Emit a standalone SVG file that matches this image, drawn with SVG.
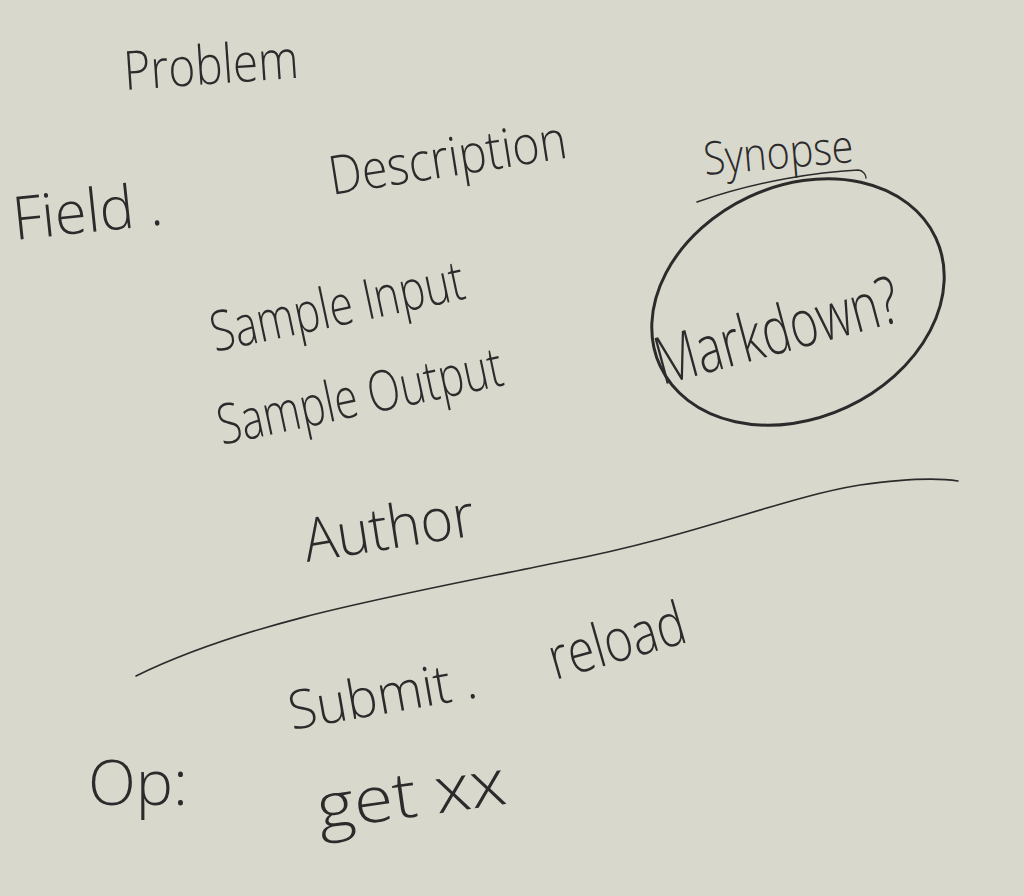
<svg xmlns="http://www.w3.org/2000/svg" width="1024" height="896" viewBox="0 0 1024 896">
<style>
.t{font-family:"Open Sans","Liberation Sans",sans-serif;font-weight:300;fill:#2b2b2b}
.s{fill:none;stroke:#2b2b2b;stroke-linecap:round}
</style>
<rect width="1024" height="896" fill="#d9d8cc"/>
<g id="problem"><text class="t" x="125" y="90" font-size="54" textLength="175" lengthAdjust="spacingAndGlyphs" transform="rotate(-4 125 90)">Problem</text></g>
<g id="field"><text class="t" x="15" y="240" font-size="60" textLength="150" lengthAdjust="spacingAndGlyphs" transform="rotate(-6 15 240)">Field .</text></g>
<g id="description"><text class="t" x="332" y="195" font-size="54" textLength="240" lengthAdjust="spacingAndGlyphs" transform="rotate(-9 332 195)">Description</text></g>
<g id="sample-input"><text class="t" x="215" y="352" font-size="56" textLength="258" lengthAdjust="spacingAndGlyphs" transform="rotate(-12 215 352)">Sample Input</text></g>
<g id="sample-output"><text class="t" x="222" y="445" font-size="56" textLength="290" lengthAdjust="spacingAndGlyphs" transform="rotate(-12 222 445)">Sample Output</text></g>
<g id="author"><text class="t" x="307" y="562" font-size="60" font-weight="400" textLength="172" lengthAdjust="spacingAndGlyphs" transform="rotate(-9 307 562)">Author</text></g>
<g id="synopse"><text class="t" x="705" y="175" font-size="46" textLength="150" lengthAdjust="spacingAndGlyphs" transform="rotate(-5 705 175)">Synopse</text></g>
<g id="markdown">
<ellipse class="s" cx="798" cy="302" rx="152" ry="116" transform="rotate(-25 798 302)" stroke-width="3"/>
<text class="t" x="662" y="385" font-size="66" textLength="250" lengthAdjust="spacingAndGlyphs" transform="rotate(-15 662 385)">Markdown?</text>
</g>
<g id="submit"><text class="t" x="292" y="730" font-size="54" textLength="190" lengthAdjust="spacingAndGlyphs" transform="rotate(-10 292 730)">Submit .</text></g>
<g id="reload"><text class="t" x="555" y="680" font-size="60" textLength="140" lengthAdjust="spacingAndGlyphs" transform="rotate(-16 555 680)">reload</text></g>
<g id="op"><text class="t" x="88" y="805" font-size="62" textLength="100" lengthAdjust="spacingAndGlyphs">Op:</text></g>
<g id="get"><text class="t" x="320" y="830" font-size="64" font-weight="400" textLength="190" lengthAdjust="spacingAndGlyphs" transform="rotate(-8 320 830)">get xx</text></g>
<g id="connectors">
<path class="s" stroke-width="1.5" d="M697,202 C760,180 820,172 858,170 C863,170 866,175 866,178"/>
<path class="s" stroke-width="1.6" d="M136,676 C250,620 400,595 560,562 C700,535 780,498 860,485 C910,478 940,478 958,481"/>
</g>
</svg>
